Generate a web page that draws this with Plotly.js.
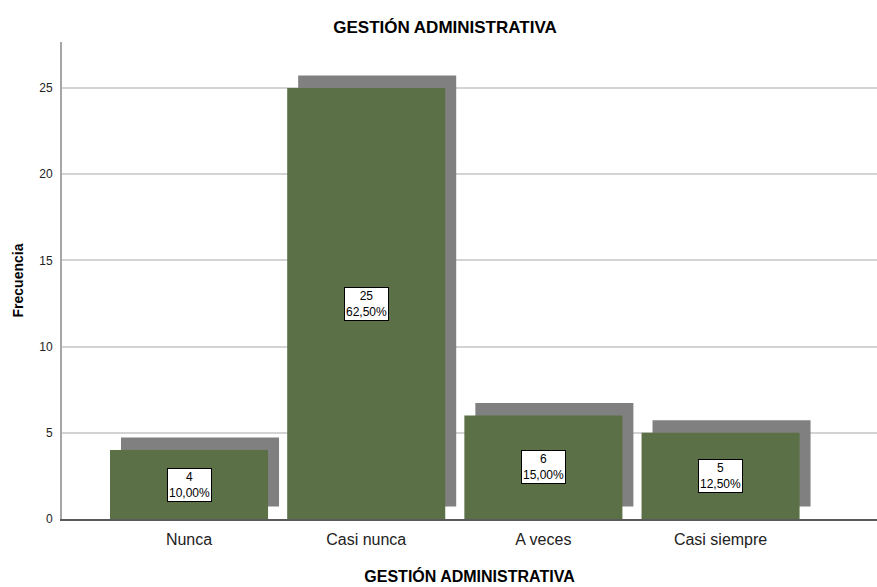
<!DOCTYPE html>
<html>
<head>
<meta charset="utf-8">
<script src="https://cdn.plot.ly/plotly-3.0.1.min.js"></script>
<style>html,body{margin:0;padding:0;background:#fff;}#chart{width:877px;height:587px;}</style>
</head>
<body>
<div id="chart"></div>
<script>
const categories = ["Nunca", "Casi nunca", "A veces", "Casi siempre"];
const counts = [4, 25, 6, 5];
const percentLabels = ["10,00%", "62,50%", "15,00%", "12,50%"];
const yTicks = [0, 5, 10, 15, 20, 25];

const barWidth = 0.892;
const shadowDx = 0.062;
const shadowDy = 0.725;

const shadow = {
  type: "bar", x: categories, y: counts,
  base: shadowDy, offset: -barWidth / 2 + shadowDx, width: barWidth,
  marker: {color: "#808080", line: {width: 0}},
  hoverinfo: "skip", showlegend: false
};
const bars = {
  type: "bar", x: categories, y: counts,
  width: barWidth,
  marker: {color: "#5b7046", line: {width: 0}},
  hoverinfo: "skip", showlegend: false
};

const annotations = categories.map((c, i) => ({
  x: c, y: counts[i] / 2, xref: "x", yref: "y",
  text: counts[i] + "<br>" + percentLabels[i],
  showarrow: false,
  bgcolor: "#ffffff", bordercolor: "#000000", borderwidth: 1, borderpad: 1,
  font: {family: "Liberation Sans, Arial, sans-serif", size: 12, color: "#000"}
}));

const sans = "Liberation Sans, Arial, sans-serif";

const layout = {
  width: 877, height: 587,
  margin: {l: 62, r: 0, t: 42, b: 68},
  paper_bgcolor: "#ffffff", plot_bgcolor: "#ffffff",
  barmode: "overlay",
  title: {
    text: "<b>GESTIÓN ADMINISTRATIVA</b>",
    x: 445 / 877, xref: "container", xanchor: "center",
    y: 1 - 27 / 587, yref: "container", yanchor: "middle",
    font: {family: sans, size: 17, color: "#000"}
  },
  xaxis: {
    type: "category",
    range: [-0.717, 3.883],
    showgrid: false, zeroline: false,
    showline: true, linecolor: "#5a5a5a", linewidth: 1.5,
    ticks: "", ticklabelstandoff: 5,
    tickfont: {family: sans, size: 16, color: "#222"},
    title: {text: "<b>GESTIÓN ADMINISTRATIVA</b>", standoff: 24,
            font: {family: sans, size: 16, color: "#000"}},
    fixedrange: true
  },
  yaxis: {
    range: [0, 27.67],
    tickvals: yTicks,
    showgrid: true, gridcolor: "#d3d3d3", gridwidth: 2,
    zeroline: false,
    showline: true, linecolor: "#a6a6a6", linewidth: 2,
    ticks: "", ticklabelstandoff: 5,
    tickfont: {family: sans, size: 12, color: "#222"},
    title: {text: "<b>Frecuencia</b>", standoff: 12,
            font: {family: sans, size: 14, color: "#000"}},
    automargin: false,
    fixedrange: true
  },
  annotations: annotations
};

Plotly.newPlot("chart", [shadow, bars], layout, {displayModeBar: false, staticPlot: true});
</script>
</body>
</html>
